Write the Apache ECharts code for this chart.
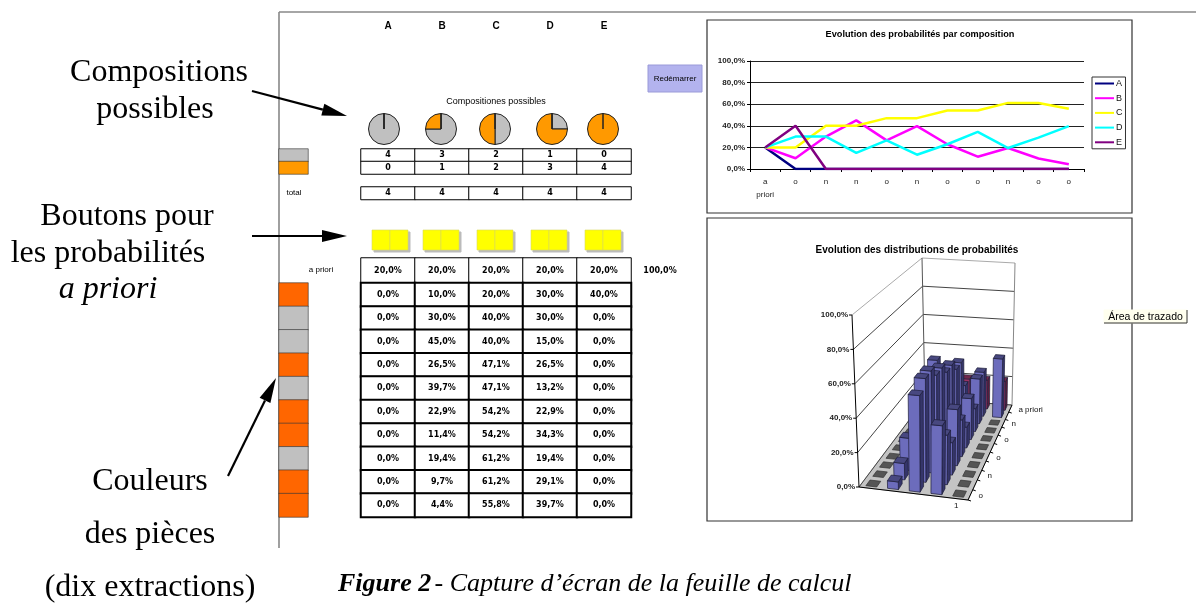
<!DOCTYPE html>
<html>
<head>
<meta charset="utf-8">
<title>Feuille de calcul</title>
<script src="https://cdn.jsdelivr.net/npm/echarts@6/dist/echarts.min.js"></script>
<style>
  html, body { margin: 0; padding: 0; background: #fff; }
  #main { width: 1196px; height: 603px; }
</style>
</head>
<body>
<div id="main"></div>
<script>
// composition columns and the drawn colours (o = orange, n = gris)
const compositions = ["A", "B", "C", "D", "E"];
const extractions = ["o", "n", "n", "o", "n", "o", "o", "n", "o", "o"];
const stepLabels = ["a priori"].concat(extractions);

const grayCount = [4, 3, 2, 1, 0];
const orangeCount = [0, 1, 2, 3, 4];
const totalCount = [4, 4, 4, 4, 4];

// probabilities per composition, first value is the a priori one
const probA = [20, 0, 0, 0, 0, 0, 0, 0, 0, 0, 0];
const probB = [20, 10, 30, 45, 26.5, 39.7, 22.9, 11.4, 19.4, 9.7, 4.4];
const probC = [20, 20, 40, 40, 47.1, 47.1, 54.2, 54.2, 61.2, 61.2, 55.8];
const probD = [20, 30, 30, 15, 26.5, 13.2, 22.9, 34.3, 19.4, 29.1, 39.7];
const probE = [20, 40, 0, 0, 0, 0, 0, 0, 0, 0, 0];
const probs = [probA, probB, probC, probD, probE];
const lineColors = ["#000080", "#ff00ff", "#ffff00", "#00ffff", "#800080"];

const percentTicks = [0, 20, 40, 60, 80, 100];
const depthTickLabels = ["a priori", "", "n", "", "o", "", "o", "", "n", "", "o"];

const pieCenters = [384, 441, 495, 552, 603];
const headX = [388, 442, 496, 550, 604];
const buttonX = [372, 423, 477, 531, 585];

const serif = '"Liberation Serif", serif';
const sans = '"Liberation Sans", sans-serif';
const cellFont = '"DejaVu Sans", sans-serif';

function pct(v) {
    return v.toFixed(1).replace(".", ",") + "%";
}

// corners of the 3D box, in page pixels
const floorFL = [859, 487], floorFR = [968, 500], floorBR = [1012, 405], floorBL = [925, 399];
const roofFL = [852, 315], roofFR = [972, 325], roofBR = [1015, 263], roofBL = [922, 258];

function bilinear(a, b, c, d, u, v) {
    return [
        (a[0] * (1 - u) + b[0] * u) * (1 - v) + (d[0] * (1 - u) + c[0] * u) * v,
        (a[1] * (1 - u) + b[1] * u) * (1 - v) + (d[1] * (1 - u) + c[1] * u) * v,
    ];
}
function project(u, v, z) {
    const w = v * (1 + 0.2 * (1 - v));
    const lo = bilinear(floorFL, floorFR, floorBR, floorBL, u, w);
    const hi = bilinear(roofFL, roofFR, roofBR, roofBL, u, w);
    const t = z / 100;
    return [lo[0] + (hi[0] - lo[0]) * t, lo[1] + (hi[1] - lo[1]) * t];
}

const grids = [];
const xAxes = [];
const yAxes = [];
const series = [];

function addHiddenGrid(left, top, width, height, cols, rows) {
    grids.push({ left: left, top: top, width: width, height: height, containLabel: false });
    xAxes.push({ type: "category", gridIndex: grids.length - 1, data: cols, show: false });
    yAxes.push({ type: "category", gridIndex: grids.length - 1, data: rows, show: false, inverse: true });
    return grids.length - 1;
}

function addTable(left, top, width, height, rows, rowValues, fmt, border) {
    const idx = addHiddenGrid(left, top, width, height, compositions, rows);
    const data = [];
    rowValues.forEach(function (vals, r) {
        vals.forEach(function (v, c) {
            data.push([c, r, v]);
        });
    });
    series.push({
        type: "heatmap",
        xAxisIndex: idx,
        yAxisIndex: idx,
        data: data,
        itemStyle: { color: "#ffffff", borderColor: "#000000", borderWidth: border },
        label: {
            show: true,
            color: "#000",
            fontFamily: cellFont,
            fontWeight: "bold",
            fontSize: 8,
            formatter: function (p) {
                return fmt(p.value[2]);
            },
        },
        emphasis: { disabled: true },
    });
}

function addSwatch(left, top, width, height, rows, colors) {
    const idx = addHiddenGrid(left, top, width, height, ["c"], rows);
    series.push({
        type: "heatmap",
        xAxisIndex: idx,
        yAxisIndex: idx,
        data: rows.map(function (r, i) {
            return { value: [0, i, 1], itemStyle: { color: colors[i] } };
        }),
        itemStyle: { borderColor: "#333", borderWidth: 0.6 },
        emphasis: { disabled: true },
    });
}

// line chart
grids.push({ left: 750, top: 61, width: 334, height: 108 });
xAxes.push({
    type: "category",
    gridIndex: 0,
    data: stepLabels,
    axisLine: { lineStyle: { color: "#000" } },
    axisTick: { show: true, length: 3, lineStyle: { color: "#000" } },
    axisLabel: {
        interval: 0,
        fontFamily: sans,
        fontSize: 8,
        color: "#222",
        margin: 6,
        lineHeight: 13,
        formatter: function (v) {
            return v === "a priori" ? "a\npriori" : v;
        },
    },
});
yAxes.push({
    type: "value",
    gridIndex: 0,
    min: 0,
    max: 100,
    interval: 20,
    axisLine: { show: true, lineStyle: { color: "#000" } },
    axisTick: { show: true, length: 3, lineStyle: { color: "#000" } },
    axisLabel: {
        fontFamily: sans,
        fontSize: 8,
        fontWeight: "bold",
        color: "#222",
        margin: 5,
        formatter: pct,
    },
    splitLine: { lineStyle: { color: "#222", width: 1 } },
});
compositions.forEach(function (name, i) {
    series.push({
        type: "line",
        name: name,
        xAxisIndex: 0,
        yAxisIndex: 0,
        data: probs[i],
        symbol: "none",
        lineStyle: { color: lineColors[i], width: 2.5 },
        itemStyle: { color: lineColors[i] },
        z: 3,
    });
});

// tables
const rowNames = stepLabels.map(function (s, i) {
    return s + i;
});
const tableRows = rowNames.map(function (s, r) {
    return probs.map(function (p) {
        return p[r];
    });
});
const plain = function (v) {
    return String(v);
};
addTable(361, 149, 270, 25, ["g", "o"], [grayCount, orangeCount], plain, 1);
addTable(361, 187, 270, 12.5, ["t"], [totalCount], plain, 1);
addTable(361, 258, 270, 25, ["p"], [tableRows[0]], pct, 1);
addTable(361, 283, 270, 234, rowNames.slice(1), tableRows.slice(1), pct, 2);

addSwatch(279, 149, 29, 25, ["g", "o"], ["#c0c0c0", "#ff9900"]);
addSwatch(279, 283, 29, 234, extractions.map(function (e, i) {
    return e + i;
}), extractions.map(function (e) {
    return e === "o" ? "#ff6600" : "#c0c0c0";
}));

// pies of the possible compositions, the empty last slice leaves the radius at 12 o'clock
compositions.forEach(function (name, i) {
    series.push({
        type: "pie",
        center: [pieCenters[i], 129],
        radius: [0, 15.5],
        startAngle: 90,
        label: { show: false },
        labelLine: { show: false },
        silent: true,
        itemStyle: { borderColor: "#222", borderWidth: 1 },
        data: [
            { value: grayCount[i], name: "gris", itemStyle: { color: "#c0c0c0" } },
            { value: orangeCount[i], name: "orange", itemStyle: { color: "#ff9900" } },
            { value: 0, name: "trait", itemStyle: { color: "#222" } },
        ],
    });
});

// full page grid for the hand projected 3D bars, pixels in = pixels out
const page = grids.length;
grids.push({ left: 0, top: 0, width: 1196, height: 603 });
xAxes.push({ type: "value", gridIndex: page, min: 0, max: 1196, show: false });
yAxes.push({ type: "value", gridIndex: page, min: 0, max: 603, inverse: true, show: false });

function poly(api, pts, fill, stroke, lw) {
    return {
        type: "polygon",
        shape: { points: pts.map(function (p) { return api.coord(p); }) },
        style: { fill: fill, stroke: stroke, lineWidth: lw === undefined ? 0.7 : lw },
    };
}
function seg(api, a, b, color, lw) {
    const p = api.coord(a);
    const q = api.coord(b);
    return {
        type: "line",
        shape: { x1: p[0], y1: p[1], x2: q[0], y2: q[1] },
        style: { stroke: color, lineWidth: lw || 1 },
    };
}

// floor
series.push({
    type: "custom",
    xAxisIndex: page,
    yAxisIndex: page,
    clip: false,
    silent: true,
    z: 2,
    data: [[0]],
    renderItem: function (params, api) {
        return poly(api, [project(0, 0, 0), project(1, 0, 0), project(1, 1, 0), project(0, 1, 0)], "#c4c4c4", "#999");
    },
});
// walls and their percent ticks
series.push({
    type: "custom",
    xAxisIndex: page,
    yAxisIndex: page,
    clip: false,
    silent: true,
    z: 2,
    data: percentTicks.map(function (t) {
        return [t];
    }),
    renderItem: function (params, api) {
        const t = api.value(0);
        const front = project(0, 0, t);
        const back = project(0, 1, t);
        const right = project(1, 1, t);
        const color = t === 100 ? "#aaa" : "#444";
        const a = api.coord(front);
        return {
            type: "group",
            children: [
                seg(api, front, back, color),
                seg(api, back, right, color),
                seg(api, front, [front[0] - 3, front[1]], "#000"),
                {
                    type: "text",
                    style: {
                        text: pct(t),
                        x: a[0] - 4,
                        y: a[1],
                        align: "right",
                        verticalAlign: "middle",
                        font: "bold 8px " + sans,
                        fill: "#222",
                    },
                },
            ],
        };
    },
});
// box edges and depth labels
series.push({
    type: "custom",
    xAxisIndex: page,
    yAxisIndex: page,
    clip: false,
    silent: true,
    z: 2,
    data: depthTickLabels.map(function (t, i) {
        return [i];
    }),
    renderItem: function (params, api) {
        const r = api.value(0);
        const v0 = (10 - r + 0.5) / 11;
        const c = api.coord(project(1, v0, 0));
        const edge = project(1, (10 - r) / 11, 0);
        const kids = [seg(api, edge, [edge[0] + 3, edge[1] + 1], "#000")];
        kids.push({
            type: "text",
            style: {
                text: depthTickLabels[r],
                x: c[0] + 8,
                y: c[1] + 1,
                align: "left",
                verticalAlign: "middle",
                font: "8px " + sans,
                fill: "#111",
            },
        });
        if (r === 0) {
            kids.push(seg(api, project(0, 0, 0), project(0, 0, 100), "#000"));
            kids.push(seg(api, project(0, 1, 0), project(0, 1, 100), "#555"));
            kids.push(seg(api, project(1, 1, 0), project(1, 1, 100), "#888"));
            kids.push(seg(api, project(0, 0, 0), project(1, 0, 0), "#000"));
            kids.push(seg(api, project(1, 0, 0), project(1, 1, 0), "#000"));
            const lab = api.coord(project(0.9, 0, 0));
            kids.push({
                type: "text",
                style: { text: "1", x: lab[0] - 1, y: lab[1] + 7, align: "center", verticalAlign: "middle", font: "8px " + sans, fill: "#111" },
            });
        }
        return { type: "group", children: kids };
    },
});
// bars, back row first so nearer bars cover the farther ones
const barData = [];
tableRows.forEach(function (vals, r) {
    vals.forEach(function (v, c) {
        barData.push([c, r, v]);
    });
});
series.push({
    type: "custom",
    xAxisIndex: page,
    yAxisIndex: page,
    clip: false,
    silent: true,
    z: 4,
    data: barData,
    renderItem: function (params, api) {
        const col = api.value(0);
        const row = api.value(1);
        const z = api.value(2);
        const u0 = (col + 0.5 - 0.25) / 5;
        const u1 = (col + 0.5 + 0.25) / 5;
        const vc = (10 - row + 0.5) / 11;
        const v0 = vc - 0.3 / 11;
        const v1 = vc + 0.3 / 11;
        const top = [project(u0, v0, z), project(u1, v0, z), project(u1, v1, z), project(u0, v1, z)];
        if (z === 0) {
            return poly(api, top, "#555555", "#333");
        }
        const first = row === 0;
        return {
            type: "group",
            children: [
                poly(api, [project(u1, v0, 0), project(u1, v1, 0), project(u1, v1, z), project(u1, v0, z)],
                    first ? "#5a1c3c" : "#35356a", "#1c1c38"),
                poly(api, [project(u0, v0, 0), project(u1, v0, 0), project(u1, v0, z), project(u0, v0, z)],
                    first ? "#993366" : "#6c6cbc", "#1c1c38"),
                poly(api, top, first ? "#70264a" : "#484880", "#1c1c38"),
            ],
        };
    },
});

function label(text, x, y, font, opt) {
    return {
        type: "text",
        z: 20,
        style: Object.assign({ text: text, x: x, y: y, font: font, fill: "#000", textAlign: "center", textVerticalAlign: "middle" }, opt || {}),
    };
}
function box(x, y, w, h, fill, stroke, lw, z) {
    return {
        type: "rect",
        z: z === undefined ? 1 : z,
        shape: { x: x, y: y, width: w, height: h },
        style: { fill: fill, stroke: stroke, lineWidth: lw || 1 },
    };
}
function arrow(x1, y1, x2, y2) {
    const dx = x2 - x1, dy = y2 - y1;
    const len = Math.sqrt(dx * dx + dy * dy);
    const ux = dx / len, uy = dy / len;
    const bx = x2 - ux * 25, by = y2 - uy * 25;
    return [
        { type: "line", z: 20, shape: { x1: x1, y1: y1, x2: bx, y2: by }, style: { stroke: "#000", lineWidth: 2.2 } },
        {
            type: "polygon",
            z: 20,
            shape: { points: [[x2, y2], [bx - uy * 6, by + ux * 6], [bx + uy * 6, by - ux * 6]] },
            style: { fill: "#000" },
        },
    ];
}

const serif32 = "32px " + serif;
let graphics = [
    // sheet border
    { type: "line", z: 1, shape: { x1: 279, y1: 12, x2: 279, y2: 548 }, style: { stroke: "#888", lineWidth: 1.6 } },
    { type: "line", z: 1, shape: { x1: 279, y1: 12, x2: 1196, y2: 12 }, style: { stroke: "#888", lineWidth: 1.6 } },
    // chart frames
    box(707, 20, 425, 193, "#fff", "#333", 1.2, 0),
    box(707, 218, 425, 303, "#fff", "#333", 1.2, 0),
    // annotations
    label("Compositions", 159, 73, serif32),
    label("possibles", 155, 110, serif32),
    label("Boutons pour", 127, 217, serif32),
    label("les probabilités", 108, 254, serif32),
    label("a priori", 108, 290, "italic " + serif32),
    label("Couleurs", 150, 482, serif32),
    label("des pièces", 150, 535, serif32),
    label("(dix extractions)", 150, 588, serif32),
    {
        type: "text",
        z: 20,
        style: {
            x: 338,
            y: 584,
            textVerticalAlign: "middle",
            text: "{b|Figure 2} {i|- Capture d’écran de la feuille de calcul}",
            rich: {
                b: { font: "italic bold 26px " + serif, fill: "#000" },
                i: { font: "italic 26px " + serif, fill: "#000" },
            },
        },
    },
    // sheet texts
    label("Compositiones possibles", 496, 102, "9px " + sans),
    label("total", 294, 193, "8px " + sans),
    label("a priori", 321, 270, "8px " + sans),
    label("100,0%", 660, 271, "bold 8px " + cellFont),
    box(648, 65, 54, 27, "#b3b3ee", "#9a9ad8", 1),
    label("Redémarrer", 675, 79, "8px " + sans),
    label("Evolution des probabilités par composition", 920, 34, "bold 9.2px " + sans),
    label("Evolution des distributions de probabilités", 917, 250, "bold 10px " + sans),
    // tooltip
    box(1104, 310, 83, 13, "#ffffee", "#ffffee", 0, 15),
    { type: "polyline", z: 16, shape: { points: [[1104, 323], [1187, 323], [1187, 310]] }, style: { fill: null, stroke: "#333", lineWidth: 1 } },
    label("Área de trazado", 1145.5, 317, "10.5px " + sans),
];
compositions.forEach(function (name, i) {
    graphics.push(label(name, headX[i], 26, "bold 10px " + sans));
});
buttonX.forEach(function (x) {
    graphics.push(box(x + 2, 232, 36, 20, "#bbb", "#bbb", 0, 1));
    graphics.push(box(x, 230, 18, 20, "#ffff00", "#d8d860", 0.6, 2));
    graphics.push(box(x + 18, 230, 18, 20, "#ffff00", "#d8d860", 0.6, 2));
});
graphics = graphics
    .concat(arrow(252, 91, 347, 116))
    .concat(arrow(252, 236, 347, 236))
    .concat(arrow(228, 476, 276, 378));

const chart = echarts.init(document.getElementById("main"));
chart.setOption({
    animation: false,
    backgroundColor: "#fff",
    tooltip: { show: false },
    legend: {
        orient: "vertical",
        left: 1092,
        top: 77,
        data: compositions,
        icon: "rect",
        padding: [2, 3, 2, 3],
        itemWidth: 19,
        itemHeight: 2,
        itemGap: 5.7,
        borderColor: "#333",
        borderWidth: 1,
        selectedMode: false,
        textStyle: { fontFamily: sans, fontSize: 9, color: "#111", padding: [0, 0, 0, -3] },
    },
    grid: grids,
    xAxis: xAxes,
    yAxis: yAxes,
    series: series,
    graphic: { elements: graphics },
});
window.addEventListener("resize", function () {
    chart.resize();
});
</script>
</body>
</html>
